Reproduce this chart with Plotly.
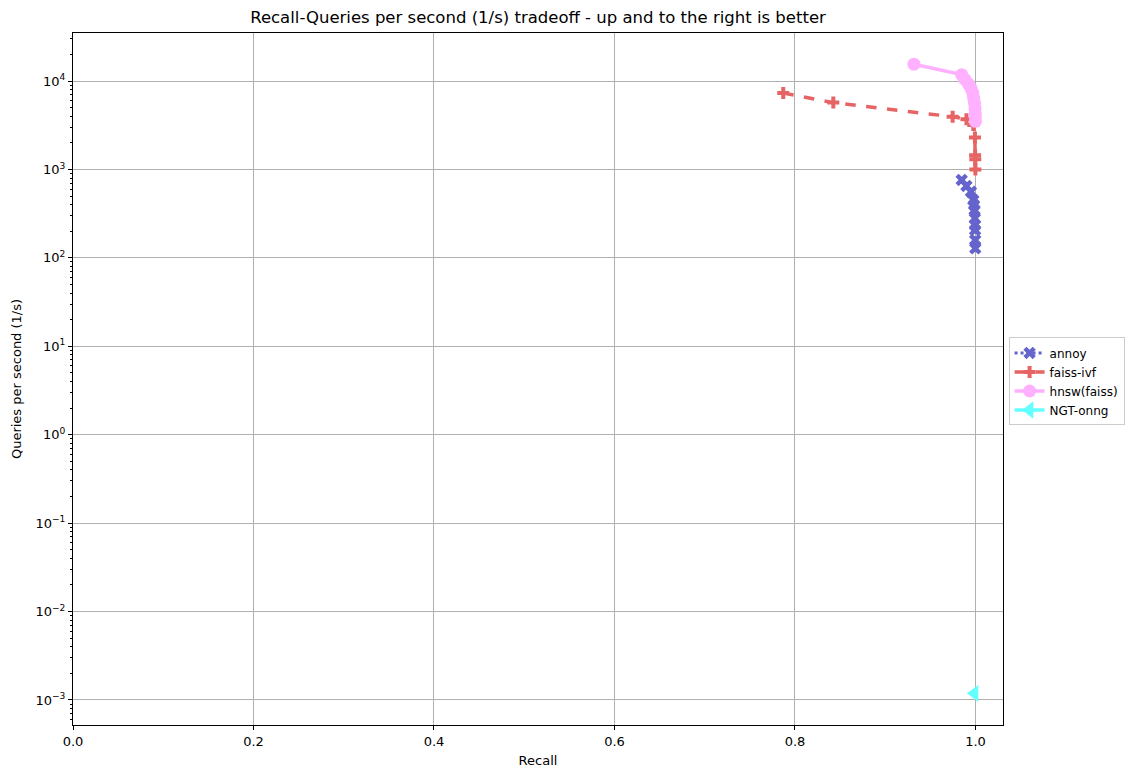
import plotly.graph_objects as go

# ---- data ----
annoy_recall = [0.9847, 0.990, 0.9950, 0.9976, 0.9985, 0.9990, 0.9993, 0.9995, 0.9996, 0.9997, 0.9998]
annoy_qps = [760, 650, 560, 451, 396, 347, 280, 235, 206, 159, 128]

faiss_recall = [0.787, 0.8425, 0.9747, 0.990, 0.9976, 0.9994, 0.9996, 0.9998, 0.9999]
faiss_qps = [7300, 5700, 3945, 3690, 3180, 2300, 1450, 1300, 1000]

hnsw_recall = [0.9318, 0.9847, 0.988, 0.992, 0.995, 0.997, 0.998, 0.999, 0.9995, 0.9997, 0.9998, 0.9999]
hnsw_qps = [15500, 11800, 10500, 9300, 8300, 7300, 6400, 5600, 4900, 4300, 3900, 3500]

ngt_recall = [0.9990]
ngt_qps = [0.00119]

y_tickvals = [1e-3, 1e-2, 1e-1, 1, 10, 100, 1000, 10000]
y_ticktext = ["10<sup>−3</sup>", "10<sup>−2</sup>", "10<sup>−1</sup>", "10<sup>0</sup>",
              "10<sup>1</sup>", "10<sup>2</sup>", "10<sup>3</sup>", "10<sup>4</sup>"]
x_tickvals = [0.0, 0.2, 0.4, 0.6, 0.8, 1.0]
x_ticktext = ["0.0", "0.2", "0.4", "0.6", "0.8", "1.0"]

minor_vals = [m * 10 ** e for e in range(-4, 5) for m in range(2, 10)]

FONT = "DejaVu Sans"

fig = go.Figure()
fig.add_trace(go.Scatter(x=annoy_recall, y=annoy_qps, name="annoy", mode="lines+markers",
                         line=dict(color="#6464cc", width=3, dash="dot"),
                         marker=dict(symbol="x", size=11, color="#6464cc")))
fig.add_trace(go.Scatter(x=faiss_recall, y=faiss_qps, name="faiss-ivf", mode="lines+markers",
                         line=dict(color="#e66464", width=3.5, dash="dash"),
                         marker=dict(symbol="cross", size=10, color="#e66464")))
fig.add_trace(go.Scatter(x=hnsw_recall, y=hnsw_qps, name="hnsw(faiss)", mode="lines+markers",
                         line=dict(color="#ffb0ff", width=3.5),
                         marker=dict(symbol="circle", size=13, color="#ffb0ff")))
fig.add_trace(go.Scatter(x=ngt_recall, y=ngt_qps, name="NGT-onng", mode="lines+markers",
                         line=dict(color="#64ffff", width=3.5),
                         marker=dict(symbol="triangle-left", size=15, color="#64ffff")))

axis_common = dict(showline=True, linecolor="black", linewidth=1, mirror=True,
                   ticks="outside", ticklen=4, tickcolor="black",
                   showgrid=True, gridcolor="#b0b0b0", gridwidth=1, zeroline=False,
                   tickfont=dict(family=FONT, size=13, color="black"))

# page is offset by the browser's 8px body margin
W, H = 1126, 770
fig.update_layout(
    width=W, height=H,
    paper_bgcolor="white", plot_bgcolor="white",
    margin=dict(l=65, r=131, t=25, b=53, autoexpand=False),
    title=dict(text="Recall-Queries per second (1/s) tradeoff - up and to the right is better",
               x=(65 + 995) / 2 / W, xanchor="center", y=1 - 9 / H, yanchor="middle",
               font=dict(family=FONT, size=16.5, color="black")),
    xaxis=dict(range=[0, 1.0305], tickvals=x_tickvals, ticktext=x_ticktext,
               title=dict(text="Recall", font=dict(family=FONT, size=13, color="black"), standoff=8),
               **axis_common),
    yaxis=dict(type="log", range=[-3.283, 4.543], tickvals=y_tickvals, ticktext=y_ticktext,
               title=dict(text="Queries per second (1/s)", font=dict(family=FONT, size=13, color="black"), standoff=10),
               minor=dict(tickvals=minor_vals, ticks="outside", ticklen=2, tickcolor="black", showgrid=False),
               **axis_common),
    legend=dict(x=1.006, xanchor="left", y=0.56, yanchor="top",
                bordercolor="#cccccc", borderwidth=1, bgcolor="white",
                font=dict(family=FONT, size=12, color="black"), tracegroupgap=0),
    showlegend=True,
)

fig.write_html("out.html")
